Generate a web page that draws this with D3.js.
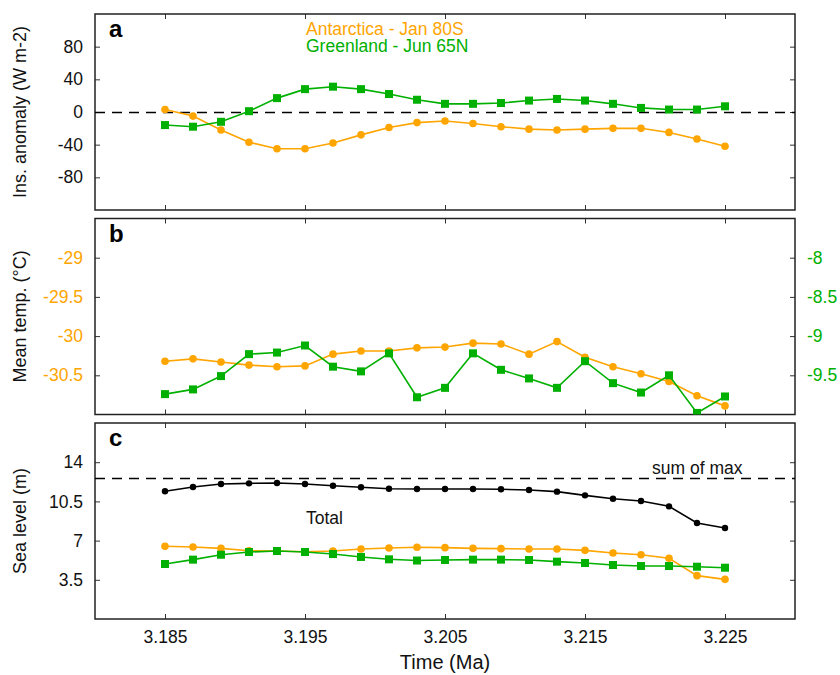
<!DOCTYPE html>
<meta charset="utf-8">
<head>
<script src="https://cdn.jsdelivr.net/npm/d3@7"></script>
<style>
  body { margin: 0; background: #fff; }
  text { font-family: "Liberation Sans", Arial, Helvetica, sans-serif; }
  .frame { fill: none; stroke: #222; stroke-width: 1.5px; }
  .tick line { stroke: #333; stroke-width: 1px; }
</style>
</head>
<body>
<div id="chart"></div>
<script>
// time axis (Ma), one sample every 2 kyr
var time = [3.185, 3.187, 3.189, 3.191, 3.193, 3.195, 3.197, 3.199, 3.201, 3.203, 3.205,
            3.207, 3.209, 3.211, 3.213, 3.215, 3.217, 3.219, 3.221, 3.223, 3.225];
var timeTicks = [3.185, 3.195, 3.205, 3.215, 3.225];

// panel a : insolation anomaly (W m-2)
var insAnt = [3, -5, -22, -37, -45, -45, -38, -28, -19, -13, -11, -14, -18, -21, -22, -21, -20, -20, -25, -33, -42];
var insGrl = [-16, -18, -12, 1, 17, 28, 31, 28, 22, 15, 10, 10, 11, 14, 16, 14, 10, 5, 3, 3, 7];
var insTicks = [-80, -40, 0, 40, 80];

// panel b : mean temperature (deg C), Antarctica on left axis, Greenland on right axis
var tempAnt = [-30.32, -30.29, -30.33, -30.37, -30.39, -30.38, -30.23, -30.19, -30.19, -30.15, -30.14,
               -30.09, -30.10, -30.23, -30.07, -30.27, -30.39, -30.48, -30.58, -30.76, -30.89];
var tempGrl = [-9.74, -9.68, -9.51, -9.23, -9.21, -9.12, -9.39, -9.45, -9.22, -9.78, -9.66,
               -9.22, -9.43, -9.54, -9.66, -9.32, -9.60, -9.72, -9.50, -9.98, -9.77];
var tempAntTicks = [-29, -29.5, -30, -30.5];
var tempGrlTicks = [-8, -8.5, -9, -9.5];

// panel c : sea level (m)
var slTotal = [11.40, 11.79, 12.05, 12.11, 12.14, 12.05, 11.90, 11.76, 11.63, 11.61, 11.61,
               11.61, 11.58, 11.52, 11.37, 11.04, 10.74, 10.54, 10.06, 8.57, 8.13];
var slAnt = [6.49, 6.43, 6.31, 6.10, 6.07, 6.01, 6.07, 6.25, 6.34, 6.40, 6.37,
             6.31, 6.28, 6.25, 6.25, 6.13, 5.89, 5.74, 5.42, 3.87, 3.54];
var slGrl = [4.91, 5.30, 5.74, 5.98, 6.07, 5.98, 5.80, 5.54, 5.33, 5.22, 5.27,
             5.30, 5.30, 5.27, 5.12, 5.00, 4.82, 4.73, 4.73, 4.67, 4.58];
var slTicks = [3.5, 7, 10.5, 14];
var sumOfMax = 12.55;

var orange = "#ffa500", green = "#00b000";

var W = 840, H = 675;
var left = 95, right = 795, ph = 196;
var tops = [14, 218.5, 423];

var svg = d3.select("#chart").append("svg")
    .attr("width", W).attr("height", H);

var x = d3.scaleLinear().domain([3.18, 3.23]).range([left, right]);

var defs = svg.append("defs");
tops.forEach(function(t, i) {
  defs.append("clipPath").attr("id", "clip" + i)
    .append("rect").attr("x", left).attr("y", t).attr("width", right - left).attr("height", ph);
});

function num(d) { return String(d); }

// draws frame, inner ticks on all four sides
function panel(i, y, yTicks, opts) {
  var t = tops[i];
  var g = svg.append("g");

  var bottom = d3.axisBottom(x).tickValues(timeTicks).tickSize(-5).tickPadding(12)
      .tickFormat(opts.xLabels ? d3.format(".3f") : "");
  var ga = g.append("g").attr("transform", "translate(0," + (t + ph) + ")").call(bottom);
  var gt = g.append("g").attr("transform", "translate(0," + t + ")")
      .call(d3.axisTop(x).tickValues(timeTicks).tickSize(-5).tickFormat(""));

  var gl = g.append("g").attr("transform", "translate(" + left + ",0)")
      .call(d3.axisLeft(y).tickValues(yTicks).tickSize(-5).tickPadding(12).tickFormat(num));

  var yr = opts.yRight || y;
  var gr = g.append("g").attr("transform", "translate(" + right + ",0)")
      .call(d3.axisRight(yr).tickValues(opts.rightTicks || yTicks).tickSize(-5).tickPadding(12)
        .tickFormat(opts.yRight ? num : ""));

  [ga, gt, gl, gr].forEach(function(a) {
    a.select(".domain").remove();
    a.selectAll("text").style("font-size", "17.5px").attr("fill", "#111");
  });
  if (opts.leftColor) gl.selectAll("text").attr("fill", opts.leftColor);
  if (opts.rightColor) gr.selectAll("text").attr("fill", opts.rightColor);

  g.append("rect").attr("class", "frame")
    .attr("x", left).attr("y", t).attr("width", right - left).attr("height", ph);

  g.append("text").attr("x", 109).attr("y", t + 23)
    .style("font-size", "24px").style("font-weight", "bold").attr("fill", "#000")
    .text(opts.letter);

  g.append("text")
    .attr("transform", "translate(26," + (t + ph / 2) + ") rotate(-90)")
    .attr("text-anchor", "middle").style("font-size", "18px").attr("fill", "#111")
    .text(opts.title);

  return svg.append("g").attr("clip-path", "url(#clip" + i + ")");
}

function series(g, values, y, color, kind, size) {
  var pts = values.map(function(v, k) { return [time[k], v]; });
  g.append("path").datum(pts)
    .attr("fill", "none").attr("stroke", color).attr("stroke-width", 1.6)
    .attr("d", d3.line().x(function(d) { return x(d[0]); }).y(function(d) { return y(d[1]); }));
  if (kind === "square") {
    g.selectAll(null).data(pts).enter().append("rect")
      .attr("x", function(d) { return x(d[0]) - size / 2; })
      .attr("y", function(d) { return y(d[1]) - size / 2; })
      .attr("width", size).attr("height", size).attr("fill", color);
  } else {
    g.selectAll(null).data(pts).enter().append("circle")
      .attr("cx", function(d) { return x(d[0]); })
      .attr("cy", function(d) { return y(d[1]); })
      .attr("r", size).attr("fill", color);
  }
}

function dashed(g, y, v) {
  var yy = Math.round(y(v)) + 0.5;
  g.append("line").attr("x1", left).attr("x2", right)
    .attr("y1", yy).attr("y2", yy)
    .attr("stroke", "#000").attr("stroke-width", 1.3).attr("stroke-dasharray", "10,7");
}

// ---- panel a
var ya = d3.scaleLinear().domain([-120, 120]).range([tops[0] + ph, tops[0]]);
var ga = panel(0, ya, insTicks, { letter: "a", title: "Ins. anomaly (W m-2)" });
dashed(ga, ya, 0);
series(ga, insAnt, ya, orange, "circle", 3.8);
series(ga, insGrl, ya, green, "square", 8);
svg.append("text").attr("x", 306).attr("y", 35).style("font-size", "17.5px").attr("fill", orange)
  .text("Antarctica - Jan 80S");
svg.append("text").attr("x", 306).attr("y", 52).style("font-size", "17.5px").attr("fill", green)
  .text("Greenland - Jun 65N");

// ---- panel b
var yb = d3.scaleLinear().domain([-31, -28.5]).range([tops[1] + ph, tops[1]]);
var ybr = d3.scaleLinear().domain([-10, -7.5]).range([tops[1] + ph, tops[1]]);
var gb = panel(1, yb, tempAntTicks, {
  letter: "b", title: "Mean temp. (\u00b0C)", leftColor: orange,
  yRight: ybr, rightTicks: tempGrlTicks, rightColor: green
});
series(gb, tempAnt, yb, orange, "circle", 3.8);
series(gb, tempGrl, ybr, green, "square", 8);

// ---- panel c
var yc = d3.scaleLinear().domain([0, 17.5]).range([tops[2] + ph, tops[2]]);
var gc = panel(2, yc, slTicks, { letter: "c", title: "Sea level (m)", xLabels: true });
dashed(gc, yc, sumOfMax);
series(gc, slTotal, yc, "#000", "circle", 3.2);
series(gc, slAnt, yc, orange, "circle", 3.8);
series(gc, slGrl, yc, green, "square", 8);
svg.append("text").attr("x", 306).attr("y", 524).style("font-size", "17.5px").attr("fill", "#111")
  .text("Total");
svg.append("text").attr("x", 652).attr("y", 474).style("font-size", "17.5px").attr("fill", "#111")
  .text("sum of max");

svg.append("text").attr("x", (left + right) / 2).attr("y", 669)
  .attr("text-anchor", "middle").style("font-size", "20px").attr("fill", "#111")
  .text("Time (Ma)");
</script>
</body>
</html>
